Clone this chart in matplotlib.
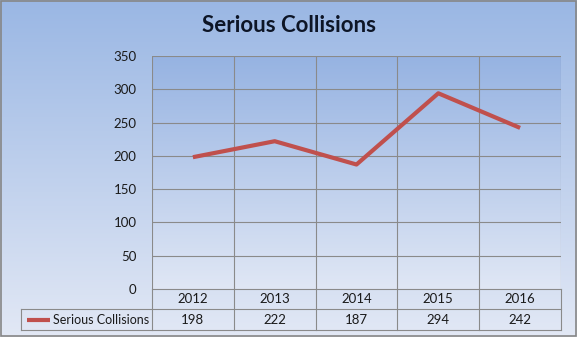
import matplotlib
matplotlib.use('Agg')
import matplotlib.pyplot as plt
import numpy as np
from matplotlib.lines import Line2D
from matplotlib.patches import Rectangle

years = ['2012', '2013', '2014', '2015', '2016']
collisions = [198, 222, 187, 294, 242]
series_name = 'Serious Collisions'
title = 'Serious Collisions'
yticks = [0, 50, 100, 150, 200, 250, 300, 350]

plt.rcParams['font.family'] = ['Lato', 'DejaVu Sans']

W, H = 577, 337
fig = plt.figure(figsize=(W / 100, H / 100), dpi=100)


def px(x, y):
    # pixel coords (top-left origin) -> figure fraction
    return x / W, 1 - y / H


def vgrad(top, bottom, n=256):
    t = np.linspace(0, 1, n)[:, None, None]
    top = np.array(top)[None, None, :] / 255.0
    bottom = np.array(bottom)[None, None, :] / 255.0
    return top * (1 - t) + bottom * t


# chart area background
bg = fig.add_axes([0, 0, 1, 1], zorder=-10)
bg.imshow(vgrad((154, 183, 228), (226, 232, 245)), aspect='auto', extent=[0, 1, 0, 1])
bg.set_xlim(0, 1)
bg.set_ylim(0, 1)
bg.axis('off')
bg.add_patch(Rectangle((0.001, 0.002), 0.997, 0.995, fill=False, ec='#868686', lw=1.2))

# plot area
left, top_ = px(152, 56)
right, bottom = px(561, 289)
ax = fig.add_axes([left, bottom, right - left, top_ - bottom])
ax.imshow(vgrad((150, 179, 226), (224, 231, 245)), aspect='auto',
          extent=[-0.5, 4.5, 0, 350], zorder=0)
x = np.arange(len(years))
ax.plot(x, collisions, color='#C0504D', lw=3.0, solid_capstyle='butt', zorder=3)
ax.set_xlim(-0.5, 4.5)
ax.set_ylim(0, 350)
ax.set_yticks(yticks)
ax.set_yticklabels([str(v) for v in yticks], fontsize=9.5, color='#1a1a1a')
ax.tick_params(axis='y', length=0, pad=11)
ax.set_xticks([])
for v in yticks[1:]:
    ax.axhline(v, color='#8a8a8a', lw=0.8, zorder=1)
for b in np.arange(-0.5, 5, 1):
    ax.axvline(b, color='#8a8a8a', lw=0.8, zorder=1)
for s in ax.spines.values():
    s.set_visible(False)

fig.text(0.5, px(0, 25.5)[1], title, ha='center', va='center', fontsize=16,
         fontweight='bold', color='#0d1526')

# data table
row1_top, row1_bot, row2_bot = 289, 309, 330
leg_left = 21
lc = '#8a8a8a'
tab = fig.add_axes([0, 0, 1, 1], zorder=5)
tab.set_xlim(0, W)
tab.set_ylim(H, 0)
tab.axis('off')
tab.add_line(Line2D([leg_left, 561], [row1_bot, row1_bot], color=lc, lw=0.8))
tab.add_line(Line2D([leg_left, 561], [row2_bot, row2_bot], color=lc, lw=0.8))
tab.add_line(Line2D([152, 561], [row1_top, row1_top], color=lc, lw=0.8))
tab.add_line(Line2D([leg_left, leg_left], [row1_bot, row2_bot], color=lc, lw=0.8))
cell_w = (561 - 152) / len(years)
for i in range(len(years) + 1):
    xb = 152 + i * cell_w
    tab.add_line(Line2D([xb, xb], [row1_top, row2_bot], color=lc, lw=0.8))
for i, (yr, v) in enumerate(zip(years, collisions)):
    xc = 152 + (i + 0.5) * cell_w
    tab.text(xc, (row1_top + row1_bot) / 2, yr, ha='center', va='center',
             fontsize=9.5, color='#1a1a1a')
    tab.text(xc, (row1_bot + row2_bot) / 2, str(v), ha='center', va='center',
             fontsize=9.5, color='#1a1a1a')
ym = (row1_bot + row2_bot) / 2
tab.add_line(Line2D([27, 50], [ym, ym], color='#C0504D', lw=3.0, solid_capstyle='butt'))
tab.text(53, ym, series_name, ha='left', va='center', fontsize=9, color='#1a1a1a')

fig.savefig('out.png', dpi=100)
